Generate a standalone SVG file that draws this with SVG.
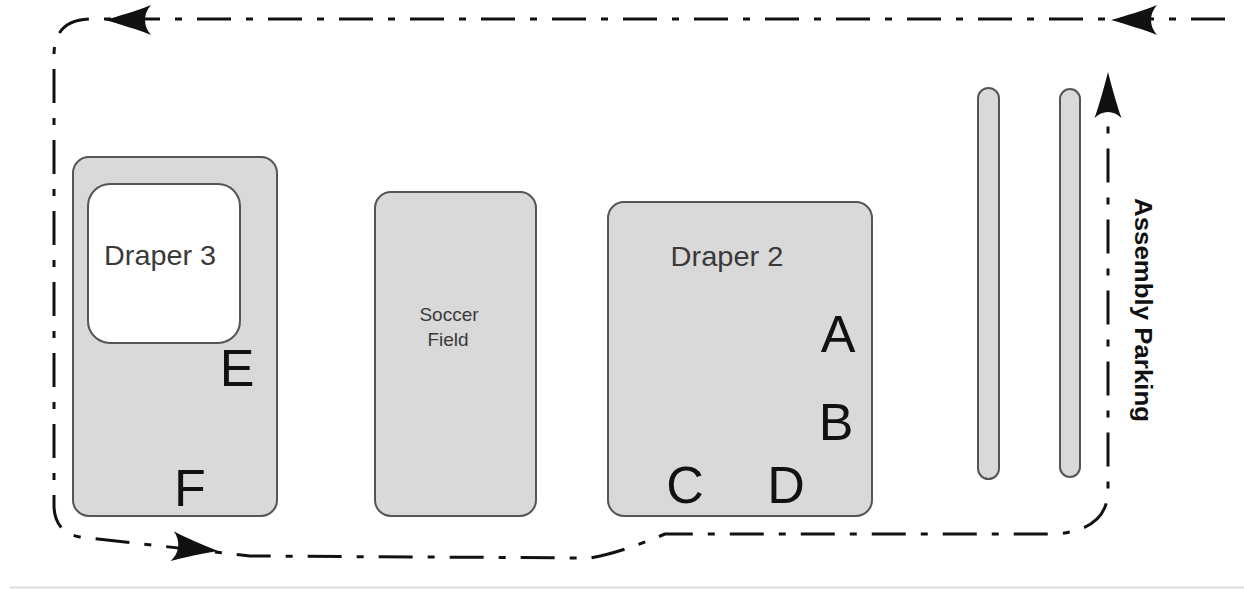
<svg xmlns="http://www.w3.org/2000/svg" width="1244" height="589" viewBox="0 0 1244 589">
<style>
.box{fill:#d9d9d9;stroke:#555;stroke-width:2}
.inner{fill:#fff;stroke:#555;stroke-width:2}
.lbl{font-family:"Liberation Sans",Arial,sans-serif;fill:#3a3a3a;text-anchor:middle}
.big{font-family:"Liberation Sans",Arial,sans-serif;fill:#111;font-size:52px;text-anchor:middle}
.route{fill:none;stroke:#111;stroke-width:3;stroke-dasharray:34 15 7 15}
.ah{fill:#111}
</style>
<defs>
<path id="arr" d="M0,0 C-14,-4 -34,-10 -46,-15 C-38,-6 -38,6 -46,15 C-34,10 -14,4 0,0 Z"/>
</defs>
<rect width="1244" height="589" fill="#fff"/>
<line x1="10" y1="587.5" x2="1244" y2="587.5" stroke="#ddd" stroke-width="2"/>
<g id="draper3">
<rect class="box" x="73" y="157" width="204" height="359" rx="16"/>
<rect class="inner" x="88" y="184" width="152" height="159" rx="22"/>
<text class="lbl" x="160" y="265" font-size="28" textLength="112" lengthAdjust="spacingAndGlyphs">Draper 3</text>
<text class="big" x="237" y="386">E</text>
<text class="big" x="190" y="506">F</text>
</g>
<g id="soccer">
<rect class="box" x="375" y="192" width="161" height="324" rx="16"/>
<text class="lbl" x="449" y="321" font-size="19">Soccer</text>
<text class="lbl" x="448" y="346" font-size="19">Field</text>
</g>
<g id="draper2">
<rect class="box" x="608" y="202" width="264" height="314" rx="16"/>
<text class="lbl" x="727" y="266" font-size="28" textLength="113" lengthAdjust="spacingAndGlyphs">Draper 2</text>
<text class="big" x="838" y="352">A</text>
<text class="big" x="836" y="440">B</text>
<text class="big" x="685" y="503">C</text>
<text class="big" x="786" y="503">D</text>
</g>
<g id="parking">
<rect class="box" x="978" y="88" width="21" height="391" rx="10.5"/>
<rect class="box" x="1060" y="89" width="20" height="388" rx="10"/>
<text x="1135" y="310" transform="rotate(90 1135 310)" font-family="Liberation Sans,Arial,sans-serif" font-weight="bold" font-size="23" fill="#111" text-anchor="middle" textLength="224" lengthAdjust="spacingAndGlyphs">Assembly Parking</text>
</g>
<g id="connectors">
<path class="route" d="M1225,19 L92,19 Q54,19 54,55 L54,505 Q54,532 80,537 L250,556 L590,558 Q620,553 665,534 L1055,534 Q1108,530 1108,490 L1108,80"/>
<use href="#arr" class="ah" transform="translate(105,20) rotate(180)"/>
<use href="#arr" class="ah" transform="translate(1111,20) rotate(180)"/>
<use href="#arr" class="ah" transform="translate(1108,72) rotate(-90) scale(1,0.9)"/>
<use href="#arr" class="ah" transform="translate(218,551) rotate(6)"/>
</g>
</svg>
